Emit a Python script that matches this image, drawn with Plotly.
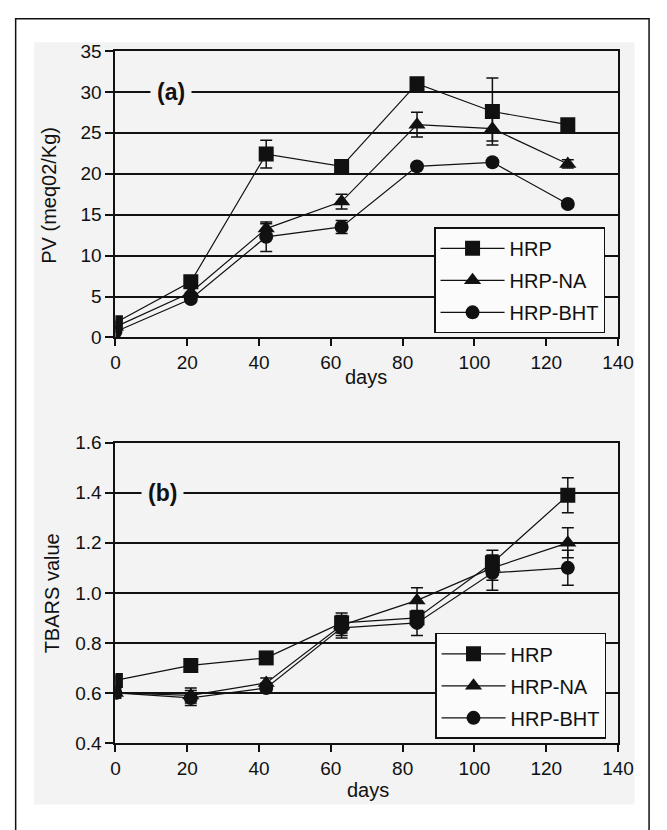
import plotly.graph_objects as go

days = [0, 21, 42, 63, 84, 105, 126]

# Panel (a): peroxide value (meq O2/kg)
pv_hrp = [1.8, 6.8, 22.4, 20.9, 31.0, 27.6, 26.0]
pv_hrp_err = [0, 0, 1.7, 0.3, 0.3, 4.1, 0.3]
pv_na = [1.3, 5.5, 13.3, 16.6, 26.0, 25.5, 21.2]
pv_na_err = [0, 0, 0.6, 0.9, 1.5, 1.5, 0.5]
pv_bht = [0.7, 4.7, 12.3, 13.5, 20.9, 21.4, 16.3]
pv_bht_err = [0, 0, 1.8, 0.8, 0.3, 0.3, 0.3]

# Panel (b): TBARS value
tb_hrp = [0.65, 0.71, 0.74, 0.88, 0.90, 1.12, 1.39]
tb_hrp_err = [0.02, 0.01, 0.01, 0.04, 0.02, 0.05, 0.07]
tb_na = [0.60, 0.59, 0.64, 0.87, 0.97, 1.10, 1.20]
tb_na_err = [0.02, 0.03, 0.02, 0.04, 0.05, 0.05, 0.06]
tb_bht = [0.60, 0.58, 0.62, 0.86, 0.88, 1.08, 1.10]
tb_bht_err = [0.02, 0.03, 0.02, 0.04, 0.05, 0.07, 0.07]

names = ["HRP", "HRP-NA", "HRP-BHT"]
symbols = ["square", "triangle-up", "circle"]
sizes = [15, 15, 14]

W, H = 667, 830
FONT = "Liberation Sans, Arial, sans-serif"

fig = go.Figure()

top_series = [(pv_hrp, pv_hrp_err), (pv_na, pv_na_err), (pv_bht, pv_bht_err)]
bot_series = [(tb_hrp, tb_hrp_err), (tb_na, tb_na_err), (tb_bht, tb_bht_err)]

for i, (vals, errs) in enumerate(top_series):
    fig.add_trace(go.Scatter(
        x=days, y=vals, name=names[i], mode="lines+markers",
        xaxis="x", yaxis="y", legend="legend", legendgroup="a%d" % i,
        line=dict(color="#111", width=1.2),
        marker=dict(symbol=symbols[i], size=sizes[i], color="#111"),
        error_y=dict(type="data", array=errs, color="#111", thickness=1.5, width=6),
    ))
for i, (vals, errs) in enumerate(bot_series):
    fig.add_trace(go.Scatter(
        x=days, y=vals, name=names[i], mode="lines+markers",
        xaxis="x2", yaxis="y2", legend="legend2", legendgroup="b%d" % i,
        line=dict(color="#111", width=1.2),
        marker=dict(symbol=symbols[i], size=sizes[i], color="#111"),
        error_y=dict(type="data", array=errs, color="#111", thickness=1.5, width=6),
    ))

xdom = [114 / W, 633 / W]
ydom_top = [(H - 336) / H, (H - 42) / H]
ydom_bot = [(H - 752) / H, (H - 444) / H]

axis_common = dict(
    showline=True, linecolor="#111", linewidth=2, mirror=True,
    ticks="outside", tickcolor="#111", tickwidth=1.5,
    tickfont=dict(family=FONT, size=19, color="#111"),
    zeroline=False,
)

legend_common = dict(
    xanchor="left", yanchor="top",
    bgcolor="#fbfbfb", bordercolor="#111", borderwidth=1.5,
    font=dict(family=FONT, size=20, color="#111"),
    tracegroupgap=3, itemwidth=64,
)

fig.update_layout(
    width=W, height=H,
    margin=dict(l=0, r=0, t=0, b=0),
    paper_bgcolor="white",
    plot_bgcolor="#f3f3f3",
    font=dict(family=FONT, color="#111"),
    xaxis=dict(domain=xdom, anchor="y", range=[0, 140], dtick=20,
               showgrid=False, ticklen=7, **axis_common),
    yaxis=dict(domain=ydom_top, anchor="x", range=[0, 35], dtick=5,
               showgrid=True, gridcolor="#111", gridwidth=1.5, ticklen=8,
               **axis_common),
    xaxis2=dict(domain=xdom, anchor="y2", range=[0, 140], dtick=20,
                showgrid=False, ticklen=7, **axis_common),
    yaxis2=dict(domain=ydom_bot, anchor="x2", range=[0.4, 1.6], dtick=0.2,
                tickformat=".1f", showgrid=True, gridcolor="#111",
                gridwidth=1.5, ticklen=8, **axis_common),
    legend=dict(x=443 / W, y=(H - 223) / H, **legend_common),
    legend2=dict(x=444 / W, y=(H - 639) / H, **legend_common),
    showlegend=True,
)

# Background image area and outer frame
fig.add_shape(type="rect", xref="paper", yref="paper", layer="below",
              x0=30 / W, x1=650 / W, y0=(H - 815) / H, y1=(H - 33) / H,
              fillcolor="#f3f3f3", line=dict(width=0))
fig.add_shape(type="rect", xref="paper", yref="paper", layer="above",
              x0=11 / W, x1=665 / W, y0=-0.05, y1=(H - 9) / H,
              fillcolor="rgba(0,0,0,0)", line=dict(color="#111", width=1.5))

annos = [
    dict(text="<b>(a)</b>", x=15.5, y=30, xref="x", yref="y",
         font=dict(family=FONT, size=23), bgcolor="#f3f3f3", borderpad=6),
    dict(text="<b>(b)</b>", x=13.1, y=1.4, xref="x2", yref="y2",
         font=dict(family=FONT, size=23), bgcolor="#f3f3f3", borderpad=6),
    dict(text="PV (meq02/Kg)", x=46 / W, y=(H - 190) / H, xref="paper", yref="paper",
         textangle=-90, font=dict(family=FONT, size=20)),
    dict(text="TBARS value", x=48 / W, y=(H - 598) / H, xref="paper", yref="paper",
         textangle=-90, font=dict(family=FONT, size=20)),
    dict(text="days", x=373 / W, y=(H - 377) / H, xref="paper", yref="paper",
         font=dict(family=FONT, size=20)),
    dict(text="days", x=375 / W, y=(H - 800) / H, xref="paper", yref="paper",
         font=dict(family=FONT, size=20)),
]
for a in annos:
    a.setdefault("showarrow", False)
    a.setdefault("xanchor", "center")
    a.setdefault("yanchor", "middle")
    fig.add_annotation(**a)

fig.write_html(
    "out.html", config={"displayModeBar": False},
    post_script="document.body.style.margin='0';",
)
